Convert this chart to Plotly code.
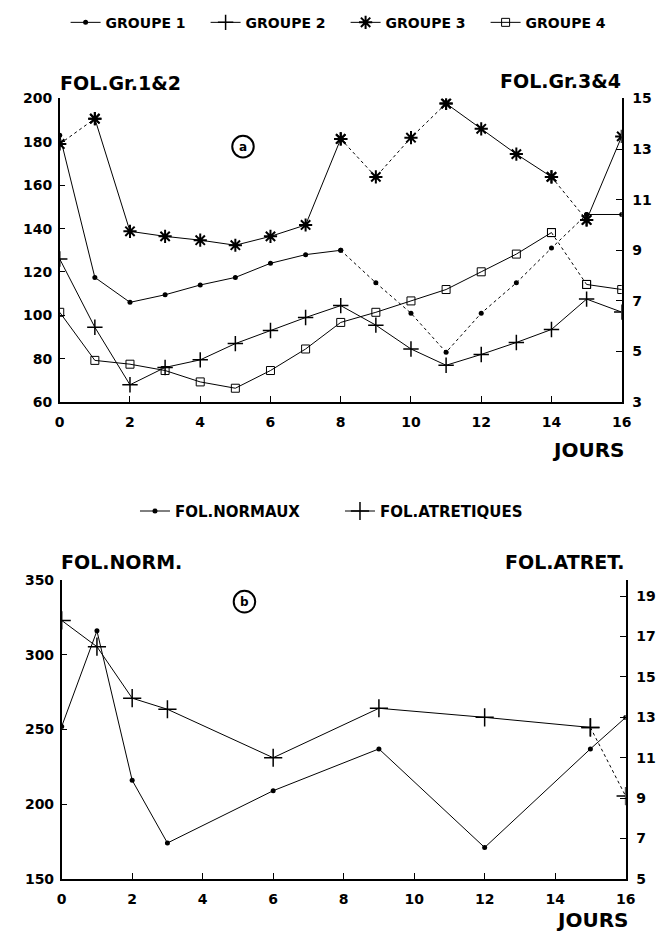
import plotly.graph_objects as go

W, H = 663, 937

# ---------------- data ----------------
days_a = list(range(17))
groupe1 = [183, 117.5, 106, 109.5, 114, 117.5, 124, 128, 130, 115, 101, 83, 101, 115, 131, 146.5, 146.5]
groupe2 = [126, 94.5, 68, 76, 79.5, 87, 93, 99, 104.5, 95.5, 84.5, 77, 82, 87.5, 93.5, 107.5, 101.5]
groupe3 = [13.2, 14.2, 9.75, 9.55, 9.4, 9.2, 9.55, 10.0, 13.4, 11.9, 13.45, 14.8, 13.8, 12.8, 11.9, 10.2, 13.5]
groupe4 = [6.55, 4.65, 4.5, 4.25, 3.8, 3.55, 4.25, 5.1, 6.15, 6.55, 7.0, 7.45, 8.15, 8.85, 9.7, 7.65, 7.45]

days_b = [0, 1, 2, 3, 6, 9, 12, 15, 16]
fol_normaux = [252, 316, 216, 174, 209, 237, 171, 237, 258]
fol_atretiques = [17.8, 16.5, 13.95, 13.4, 11.0, 13.45, 13.0, 12.5, 9.1]

x_ticks = list(range(0, 17, 2))
ya_left_ticks = list(range(60, 201, 20))
ya_right_ticks = list(range(3, 16, 2))
yb_left_ticks = list(range(150, 351, 50))
yb_right_ticks = list(range(5, 20, 2))

# ---------------- styles ----------------
FONT = "DejaVu Sans"
S = "solid"
D = "dot"
seg_g1 = [S] * 8 + [D] * 7 + [S]
seg_g2 = [S] * 16
seg_g3 = [D] + [S] * 7 + [D, D, D] + [S, S, S] + [D, S]
seg_g4 = [S] * 14 + [D, S]
seg_nor = [S] * 8
seg_atr = [S] * 7 + [D]


def px_x(p):
    return p / W


def px_y(p):
    return 1 - p / H


fig = go.Figure()


def add_series(x, y, segs, name, marker, xaxis, yaxis, legend):
    runs = []
    start = 0
    for i in range(1, len(segs) + 1):
        if i == len(segs) or segs[i] != segs[start]:
            runs.append((start, i, segs[start]))
            start = i
    shown = False
    for a, b, dash in runs:
        show = (not shown) and dash == S
        if show:
            shown = True
        fig.add_trace(go.Scatter(
            x=x[a:b + 1], y=y[a:b + 1], mode="lines+markers", name=name,
            line=dict(color="black", width=1, dash=dash),
            marker=marker, showlegend=show, legend=legend,
            xaxis=xaxis, yaxis=yaxis, hoverinfo="skip"))


dot = dict(symbol="circle", size=5, color="black")
plus = dict(symbol="cross-thin", size=11, color="black", line=dict(color="black", width=1.5))
star = dict(symbol="asterisk", size=11, color="black", line=dict(color="black", width=2))
square = dict(symbol="square-open", size=8, color="black", line=dict(color="black", width=1))
plus_b = dict(symbol="cross-thin", size=13, color="black", line=dict(color="black", width=1.5))

add_series(days_a, groupe1, seg_g1, "GROUPE 1", dot, "x", "y", "legend")
add_series(days_a, groupe2, seg_g2, "GROUPE 2", plus, "x", "y", "legend")
add_series(days_a, groupe3, seg_g3, "GROUPE 3", star, "x", "y2", "legend")
add_series(days_a, groupe4, seg_g4, "GROUPE 4", square, "x", "y2", "legend")
add_series(days_b, fol_normaux, seg_nor, "FOL.NORMAUX", dot, "x2", "y3", "legend2")
add_series(days_b, fol_atretiques, seg_atr, "FOL.ATRETIQUES", plus_b, "x2", "y4", "legend2")

tickfont = dict(family=FONT, size=14, color="black", weight="bold")
ax_common = dict(showgrid=False, zeroline=False, showline=True, linecolor="black",
                 linewidth=1.5, ticks="inside", ticklen=6, tickwidth=1.2,
                 tickcolor="black", tickfont=tickfont)

fig.update_layout(
    width=W, height=H, margin=dict(l=0, r=0, t=0, b=0),
    paper_bgcolor="white", plot_bgcolor="white",
    xaxis=dict(domain=[px_x(56), px_x(631)], anchor="y", range=[0, 16],
               tickvals=x_ticks, ticklabelstandoff=6, **ax_common),
    yaxis=dict(domain=[px_y(401), px_y(92)], anchor="x", range=[60, 200],
               tickvals=ya_left_ticks, ticklabelstandoff=3, **ax_common),
    yaxis2=dict(overlaying="y", side="right", anchor="x", range=[3, 15],
                tickvals=ya_right_ticks, ticklabelstandoff=6, **ax_common),
    xaxis2=dict(domain=[px_x(58), px_x(635)], anchor="y3", range=[0, 16],
                tickvals=x_ticks, ticklabelstandoff=7, **ax_common),
    yaxis3=dict(domain=[px_y(886), px_y(582)], anchor="x2", range=[150, 350],
                tickvals=yb_left_ticks, ticklabelstandoff=3, **ax_common),
    yaxis4=dict(overlaying="y3", side="right", anchor="x2", range=[5, 19.8],
                tickvals=yb_right_ticks, ticklabelstandoff=6, **ax_common),
    legend=dict(orientation="h", x=px_x(62), y=px_y(15), xanchor="left", yanchor="middle",
                font=dict(family=FONT, size=14, color="black", weight="bold"),
                entrywidth=95, entrywidthmode="pixels", itemwidth=30,
                bgcolor="rgba(0,0,0,0)", borderwidth=0),
    legend2=dict(orientation="h", x=px_x(133), y=px_y(512), xanchor="left", yanchor="middle",
                 font=dict(family=FONT, size=15, color="black", weight="bold"),
                 entrywidth=160, entrywidthmode="pixels", itemwidth=30,
                 bgcolor="rgba(0,0,0,0)", borderwidth=0),
    showlegend=True,
)

title_font = dict(family=FONT, size=19, color="black", weight="bold")
jours_font = dict(family=FONT, size=20, color="black", weight="bold")


def label(text, x, y, xanchor, font):
    fig.add_annotation(text=text, x=px_x(x), y=px_y(y), xref="paper", yref="paper",
                       xanchor=xanchor, yanchor="middle", showarrow=False, font=font)


label("FOL.Gr.1&2", 54, 76, "left", title_font)
label("FOL.Gr.3&4", 632, 74, "right", title_font)
label("JOURS", 636, 450, "right", jours_font)
label("FOL.NORM.", 55, 564, "left", title_font)
label("FOL.ATRET.", 636, 564, "right", title_font)
label("JOURS", 641, 928, "right", jours_font)

for cx, cy, letter in [(243.5, 141, "a"), (245, 604, "b")]:
    r = 11
    fig.add_shape(type="circle", xref="paper", yref="paper",
                  x0=px_x(cx - r), x1=px_x(cx + r), y0=px_y(cy + r), y1=px_y(cy - r),
                  line=dict(color="black", width=2))
    label(letter, cx, cy, "center", dict(family=FONT, size=12, color="black", weight="bold"))

fig.write_html("out.html", config={"displayModeBar": False},
               post_script="document.body.style.margin='0';")
